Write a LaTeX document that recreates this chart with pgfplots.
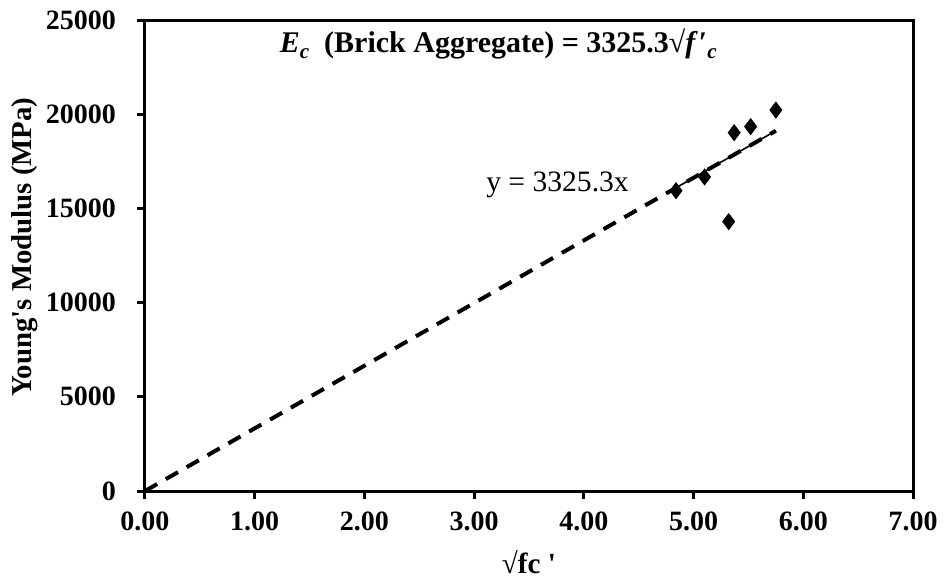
\documentclass[border=0pt]{standalone}
\usepackage{fontspec}
\setmainfont{Liberation Serif}
\usepackage{pgfplots}
\pgfplotsset{compat=1.18}
\begin{document}
\begin{tikzpicture}
\begin{axis}[
  name=ax,
  scale only axis,
  width=384pt, height=235.5pt,
  xmin=0, xmax=7, ymin=0, ymax=25000,
  xtick={0,1,...,7}, ytick={0,5000,...,25000},
  xticklabel={\pgfmathprintnumber[fixed,fixed zerofill,precision=2]{\tick}},
  yticklabel={\pgfmathprintnumber[int detect,1000 sep={}]{\tick}},
  /pgf/number format/assume math mode=true,
  scaled ticks=false,
  xticklabel style={font=\bfseries\fontsize{14}{16}\selectfont, yshift=-3pt},
  yticklabel style={font=\bfseries\fontsize{14}{16}\selectfont, xshift=-7pt},
  axis line style={line width=1.5pt},
  tick style={line width=1.5pt, black},
  tick align=outside, major tick length=4pt,
  xtick pos=bottom, ytick pos=left,
  xlabel={\bfseries\fontsize{14.6}{16}\selectfont √fc \textquotesingle},
  ylabel={\bfseries\fontsize{14.4}{16}\selectfont Young\textquotesingle s Modulus (MPa)},
  xlabel style={yshift=-3pt},
  ylabel style={at={(axis description cs:-0.156,0.518)}, anchor=center},
  clip=false,
]
\addplot[black, line width=2pt, dash pattern=on 7pt off 5pt] coordinates {(0,0) (5.75,19120)};
\addplot[black, line width=0.8pt] coordinates {(4.84,16094) (5.75,19120)};
\addplot[only marks, mark=diamond*, mark size=4pt, black] coordinates {
(4.84,15940) (5.10,16670) (5.32,14300) (5.37,19020) (5.52,19340) (5.75,20220)};
\node[font=\fontsize{14.8}{16}\selectfont] at (axis cs:3.76,16243) {y = 3325.3x};
\node[font=\bfseries\fontsize{15}{17}\selectfont] at (axis cs:3.22,23730)
 {\textit{E}\raisebox{-0.45ex}{\fontsize{10.5}{11}\selectfont\textit{c}}\ \ (Brick Aggregate) = 3325.3√\textit{f}\kern0.5pt′\raisebox{-0.45ex}{\fontsize{10.5}{11}\selectfont\textit{c}}};
\end{axis}
\pgfresetboundingbox
\path ([shift={(-72.5pt,-46pt)}]ax.south west) rectangle ([shift={(16pt,10pt)}]ax.north east);
\end{tikzpicture}
\end{document}
